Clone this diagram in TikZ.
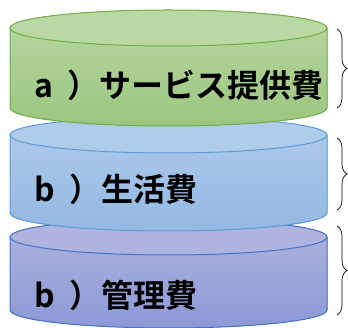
\documentclass[tikz,border=0pt]{standalone}
\usepackage{fontspec}
\newfontfamily\cjk{Noto Sans CJK JP}[BoldFont={Noto Sans CJK JP Bold}]
\usetikzlibrary{decorations.pathreplacing}

\definecolor{greenline}{HTML}{70AD47}
\definecolor{greentop}{HTML}{B8D8A4}
\definecolor{greenbot}{HTML}{9CC67F}
\definecolor{blueline}{HTML}{5B9BD5}
\definecolor{bluetop}{HTML}{B0CCEB}
\definecolor{bluebot}{HTML}{93B8E2}
\definecolor{purpleline}{HTML}{4472C4}
\definecolor{purpletop}{HTML}{AEB4DF}
\definecolor{purplebot}{HTML}{8C99D5}

% top y, bottom y, colour
\newcommand{\drum}[3]{
\fill[top color=#3top, bottom color=#3bot] (10,#1) -- (10,#2)
  arc[start angle=180, end angle=0, x radius=158.5, y radius=18] -- (327,#1)
  arc[start angle=0, end angle=-180, x radius=158.5, y radius=18] -- cycle;
\draw[#3line, line width=1pt] (10,#1) -- (10,#2)
  arc[start angle=180, end angle=0, x radius=158.5, y radius=18] -- (327,#1);
\draw[#3line, line width=1pt, fill=#3top] (168.5,#1) ellipse[x radius=158.5, y radius=18];
}

\tikzset{
  cost/.style = {anchor = west, inner sep = 0pt, font = \cjk\bfseries\fontsize{32}{32}\selectfont},
  part/.style = {decorate, decoration = {brace, amplitude = 10pt}, line width = 0.7pt}
}

\begin{document}
\begin{tikzpicture}[x = 1pt, y = -1pt]
\useasboundingbox (0,0) rectangle (348,328);

\drum{237}{310}{purple}
\drum{135}{213}{blue}
\drum{28}{108}{green}

\node[cost] (c1) at (34,85) {a\hspace{0.45em}）サービス提供費};
\node[cost] (c2) at (34,189) {b\hspace{0.45em}）生活費};
\node[cost] (c3) at (34,295) {b\hspace{0.45em}）管理費};

\coordinate (p1a) at (337,29);
\coordinate (p1b) at (337,108);
\coordinate (p2a) at (337,138);
\coordinate (p2b) at (337,210);
\coordinate (p3a) at (337,226);
\coordinate (p3b) at (337,315);

\draw[part] (p1a) -- (p1b);
\draw[part] (p2a) -- (p2b);
\draw[part] (p3a) -- (p3b);

\end{tikzpicture}
\end{document}
